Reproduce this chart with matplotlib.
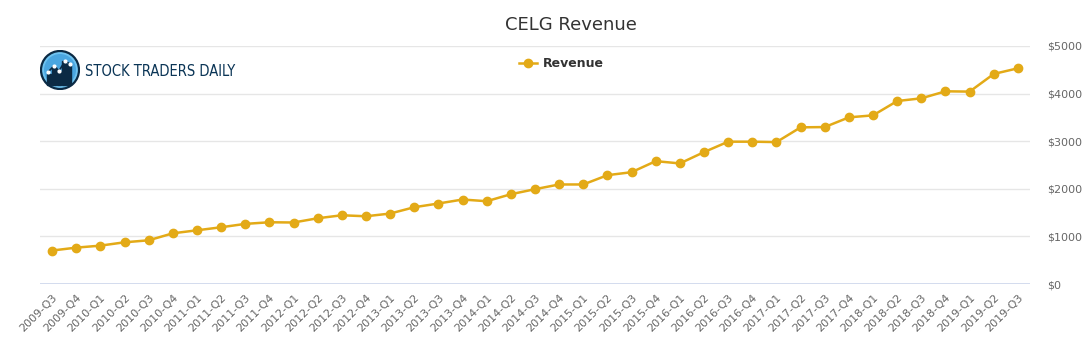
import numpy as np
import matplotlib.pyplot as plt
from matplotlib.patches import Circle, Rectangle

# quarters 2009-Q3 .. 2019-Q3
quarters = [f"{y}-Q{q}" for y in range(2009, 2020) for q in range(1, 5)]
quarters = quarters[2:-1]

# revenue (millions USD)
revenue = [703, 764, 806, 876, 918, 1065, 1128, 1192, 1263, 1297,
           1292, 1381, 1444, 1423, 1480, 1613, 1691, 1775, 1739, 1886,
           1992, 2091, 2091, 2286, 2349, 2581, 2533, 2771, 2990, 2990,
           2981, 3291, 3297, 3501, 3543, 3844, 3901, 4048, 4042, 4413,
           4532]

yticks = [0, 1000, 2000, 3000, 4000, 5000]

line_color = '#e3aa17'
text_color = '#666666'

fig = plt.figure(figsize=(10.91, 3.5), dpi=100)
ax = fig.add_axes([40 / 1091, 66 / 350, 990 / 1091, 238 / 350])

x = np.arange(len(quarters))
ax.plot(x, revenue, color=line_color, lw=1.8, marker='o', markersize=6,
        label='Revenue', zorder=3)

ax.set_xlim(-0.5, len(quarters) - 0.5)
ax.set_ylim(0, 5000)
ax.set_yticks(yticks)
ax.set_yticklabels([f"${v}" for v in yticks])
ax.yaxis.tick_right()
ax.tick_params(axis='y', length=0, pad=12, labelsize=8, labelcolor=text_color)
ax.set_xticks(x)
ax.set_xticklabels(quarters, rotation=45, ha='right', rotation_mode='anchor')
ax.tick_params(axis='x', length=0, pad=6, labelsize=8, labelcolor=text_color)

for v in yticks[1:]:
    ax.axhline(v, color='#e6e6e6', lw=1, zorder=1)
ax.axhline(0, color='#ccd6eb', lw=1.2, zorder=2)
for s in ax.spines.values():
    s.set_visible(False)

fig.text(0.523, 0.93, 'CELG Revenue', ha='center', va='center',
         fontsize=13, color='#333333')

leg = ax.legend(loc='upper center', bbox_to_anchor=(0.527, 1.0), frameon=False,
                prop={'weight': 'bold', 'size': 9}, handlelength=1.4,
                handletextpad=0.5)
for t in leg.get_texts():
    t.set_color('#333333')

# logo
lax = fig.add_axes([40 / 1091, 1 - 90 / 350, 40 / 1091, 40 / 350])
lax.set_xlim(-1, 1)
lax.set_ylim(-1, 1)
lax.set_aspect('equal')
lax.axis('off')
lax.add_patch(Circle((0, 0), 0.95, facecolor='#6fc3f0', edgecolor='#0b2a44', lw=1.6))
lax.add_patch(Circle((0, 0), 0.8, facecolor='#4aa6e0', edgecolor='none'))
bars_x = [-0.55, -0.3, -0.05, 0.2, 0.45]
bars_h = [0.55, 0.9, 0.7, 1.2, 1.05]
for bx, bh in zip(bars_x, bars_h):
    lax.add_patch(Rectangle((bx - 0.08, -0.75), 0.16, bh, color='#0b2a44'))
lax.plot([-0.6, -0.3, -0.05, 0.25, 0.5], [-0.1, 0.2, -0.05, 0.45, 0.3],
         color='#0b2a44', lw=1.2)
lax.plot([-0.6, -0.3, -0.05, 0.25, 0.5], [-0.1, 0.2, -0.05, 0.45, 0.3],
         'o', color='white', markersize=2)

fig.text(85 / 1091, 1 - 72 / 350, 'STOCK TRADERS DAILY', ha='left', va='center',
         fontsize=10.5, color='#0b3556', fontstretch='condensed',
         family=['DejaVu Sans Condensed', 'DejaVu Sans'])

fig.savefig('out.png', dpi=100, facecolor='white')
